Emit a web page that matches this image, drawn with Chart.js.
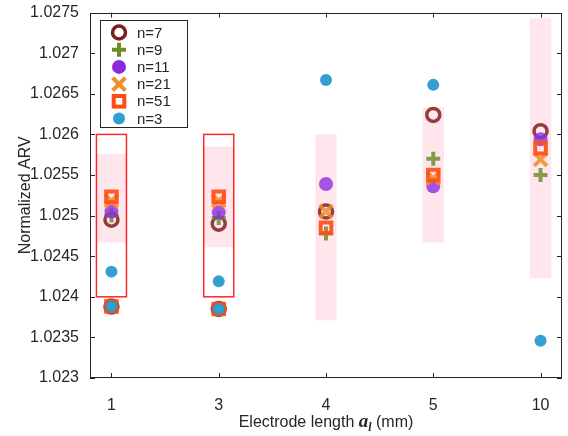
<!DOCTYPE html>
<html>
<head>
<meta charset="utf-8">
<script src="https://cdn.jsdelivr.net/npm/chart.js@4/dist/chart.umd.min.js"></script>
<style>
  body { margin: 0; background: #fff; }
  canvas { display: block; }
</style>
</head>
<body>
<canvas id="arvChart" width="568" height="436"></canvas>
<script>
// electrode lengths (mm) shown as equally spaced categories
const lengths = ['1', '3', '4', '5', '10'];
const yTicks = [1.023, 1.0235, 1.024, 1.0245, 1.025, 1.0255, 1.026, 1.0265, 1.027, 1.0275];

// normalized ARV per series
const n7 = [1.02495, 1.02490, 1.02505, 1.02624, 1.02604];
const n9 = [1.02500, 1.02497, 1.02478, 1.02570, 1.02550];
const n11 = [1.02505, 1.02504, 1.02539, 1.02536, 1.02594];
const n21 = [1.02518, 1.02518, 1.02505, 1.02546, 1.02569];
const n51 = [1.02523, 1.02523, 1.02485, 1.02550, 1.02583];
const n3 = [1.02431, 1.02419, 1.02667, 1.02661, 1.02346];
// second (low) cluster seen only at 1 and 3 mm
const lowCluster = [1.02388, 1.02385, null, null, null];

// shaded ranges and highlighted boxes
const bandLow = [1.02467, 1.02461, 1.02371, 1.02467, 1.02423];
const bandHigh = [1.02576, 1.02585, 1.02600, 1.02633, 1.02743];
const boxLow = [1.024, 1.024, null, null, null];
const boxHigh = [1.026, 1.026, null, null, null];

const seriesNames = ['n=7', 'n=9', 'n=11', 'n=21', 'n=51', 'n=3'];
const seriesValues = [n7, n9, n11, n21, n51, n3];
const seriesLow = [lowCluster, null, null, null, lowCluster, lowCluster];

const styles = [
    { shape: 'circle', r: 6.5, bw: 3.5, stroke: 'rgba(128,30,30,0.85)', fill: 'rgba(0,0,0,0)', legend: '#7e1f1f' },
    { shape: 'cross', r: 7, bw: 4, stroke: 'rgba(105,135,35,0.8)', fill: 'rgba(0,0,0,0)', legend: '#6b8e23' },
    { shape: 'circle', r: 7, bw: 0, stroke: 'rgba(0,0,0,0)', fill: 'rgba(140,45,225,0.8)', legend: '#8a2be2' },
    { shape: 'crossRot', r: 9, bw: 4, stroke: 'rgba(240,140,40,0.85)', fill: 'rgba(0,0,0,0)', legend: '#f0902a' },
    { shape: 'rect', r: 7.5, bw: 4, stroke: 'rgba(255,75,20,0.9)', fill: 'rgba(0,0,0,0)', legend: '#ff4b14' },
    { shape: 'circle', r: 6, bw: 0, stroke: 'rgba(0,0,0,0)', fill: 'rgba(40,155,205,0.95)', legend: '#2e9fd0' }
];

const axisColor = '#262626';
const sansFont = '"Liberation Sans", Arial, sans-serif';

function toPoints(vals, lows) {
    const out = vals.map((v, i) => ({ x: i + 1, y: v }));
    if (lows) {
        lows.forEach((v, i) => { if (v !== null) out.push({ x: i + 1, y: v }); });
    }
    return out;
}

const datasets = seriesNames.map((name, i) => ({
    label: name,
    data: toPoints(seriesValues[i], seriesLow[i]),
    pointStyle: styles[i].shape,
    pointRadius: styles[i].r,
    pointBorderWidth: styles[i].bw,
    borderColor: styles[i].stroke,
    backgroundColor: styles[i].fill,
    showLine: false,
    order: seriesNames.length - i
}));

// own marker drawing for the legend box
function drawMark(ctx, st, x, y) {
    ctx.save();
    ctx.lineWidth = st.bw;
    ctx.strokeStyle = st.legend;
    ctx.fillStyle = st.legend;
    ctx.beginPath();
    if (st.shape === 'circle') {
        ctx.arc(x, y, st.r, 0, Math.PI * 2);
        if (st.bw > 0) ctx.stroke(); else ctx.fill();
    } else if (st.shape === 'cross') {
        ctx.moveTo(x - st.r, y); ctx.lineTo(x + st.r, y);
        ctx.moveTo(x, y - st.r); ctx.lineTo(x, y + st.r);
        ctx.stroke();
    } else if (st.shape === 'crossRot') {
        const d = st.r * Math.SQRT1_2;
        ctx.moveTo(x - d, y - d); ctx.lineTo(x + d, y + d);
        ctx.moveTo(x - d, y + d); ctx.lineTo(x + d, y - d);
        ctx.stroke();
    } else if (st.shape === 'rect') {
        const s = st.r * Math.SQRT1_2;
        ctx.strokeRect(x - s, y - s, 2 * s, 2 * s);
    }
    ctx.restore();
}

const decorPlugin = {
    id: 'decor',
    beforeDatasetsDraw(chart) {
        const ctx = chart.ctx;
        const xs = chart.scales.x, ys = chart.scales.y;
        ctx.save();
        lengths.forEach((_, i) => {
            const half = boxLow[i] !== null ? 0.14 : 0.1;
            const x0 = xs.getPixelForValue(i + 1 - half);
            const x1 = xs.getPixelForValue(i + 1 + half);
            const yTop = ys.getPixelForValue(bandHigh[i]);
            const yBot = ys.getPixelForValue(bandLow[i]);
            ctx.fillStyle = 'rgb(255,230,236)';
            ctx.fillRect(x0, yTop, x1 - x0, yBot - yTop);
            if (boxLow[i] !== null) {
                const bTop = ys.getPixelForValue(boxHigh[i]);
                const bBot = ys.getPixelForValue(boxLow[i]);
                ctx.strokeStyle = 'rgba(255,0,0,0.85)';
                ctx.lineWidth = 1.5;
                ctx.strokeRect(x0, bTop, x1 - x0, bBot - bTop);
            }
        });
        ctx.restore();
    },
    afterDatasetsDraw(chart) {
        const ctx = chart.ctx;
        const a = chart.chartArea;
        const xs = chart.scales.x, ys = chart.scales.y;
        ctx.save();
        ctx.strokeStyle = axisColor;
        ctx.lineWidth = 1;
        ctx.strokeRect(Math.round(a.left) + 0.5, Math.round(a.top) + 0.5,
            Math.round(a.right - a.left) - 1, Math.round(a.bottom - a.top) - 1);
        ctx.beginPath();
        xs.ticks.forEach(t => {
            const x = Math.round(xs.getPixelForValue(t.value)) + 0.5;
            ctx.moveTo(x, a.bottom); ctx.lineTo(x, a.bottom - 5);
            ctx.moveTo(x, a.top); ctx.lineTo(x, a.top + 5);
        });
        ys.ticks.forEach(t => {
            const y = Math.round(ys.getPixelForValue(t.value)) + 0.5;
            ctx.moveTo(a.left, y); ctx.lineTo(a.left + 5, y);
            ctx.moveTo(a.right, y); ctx.lineTo(a.right - 5, y);
        });
        ctx.stroke();

        // legend box, upper left inside the axes
        const lx = 100, ly = 20, lw = 88, lh = 108;
        ctx.fillStyle = '#fff';
        ctx.fillRect(lx, ly, lw, lh);
        ctx.strokeStyle = axisColor;
        ctx.strokeRect(lx + 0.5, ly + 0.5, lw - 1, lh - 1);
        ctx.font = '15px ' + sansFont;
        ctx.textBaseline = 'middle';
        ctx.textAlign = 'left';
        seriesNames.forEach((name, i) => {
            const y = ly + 12.5 + i * 17.2;
            drawMark(ctx, styles[i], lx + 19, y);
            ctx.fillStyle = axisColor;
            ctx.fillText(name, lx + 37, y + 1);
        });

        // x axis title with the italic bold symbol
        const parts = [
            { t: 'Electrode length ', f: '16px ' + sansFont, dy: 0 },
            { t: 'a', f: 'italic bold 19px "Liberation Serif", "Times New Roman", serif', dy: 0 },
            { t: 'l', f: 'italic bold 12px "Liberation Serif", "Times New Roman", serif', dy: 4 },
            { t: ' (mm)', f: '16px ' + sansFont, dy: 0 }
        ];
        let total = 0;
        parts.forEach(p => { ctx.font = p.f; p.w = ctx.measureText(p.t).width; total += p.w; });
        let cx = (a.left + a.right) / 2 - total / 2;
        ctx.textBaseline = 'alphabetic';
        ctx.fillStyle = axisColor;
        parts.forEach(p => {
            ctx.font = p.f;
            ctx.fillText(p.t, cx, 427 + p.dy);
            cx += p.w;
        });
        ctx.restore();
    }
};

new Chart(document.getElementById('arvChart'), {
    type: 'scatter',
    data: { datasets: datasets },
    options: {
        responsive: false,
        animation: false,
        layout: { padding: { top: 8, right: 6, left: 0, bottom: 0 }, autoPadding: false },
        plugins: {
            legend: { display: false },
            tooltip: { enabled: false }
        },
        scales: {
            x: {
                type: 'linear',
                min: 0.8,
                max: 5.2,
                afterBuildTicks: s => { s.ticks = lengths.map((_, i) => ({ value: i + 1 })); },
                afterFit: s => { s.height = 58; },
                grid: { display: false },
                border: { display: false },
                ticks: {
                    autoSkip: false,
                    maxRotation: 0,
                    padding: 10,
                    color: axisColor,
                    font: { family: sansFont, size: 16 },
                    callback: v => lengths[v - 1]
                }
            },
            y: {
                min: 1.023,
                max: 1.0275,
                afterBuildTicks: s => { s.ticks = yTicks.map(v => ({ value: v })); },
                afterFit: s => { s.width = 90; },
                grid: { display: false },
                border: { display: false },
                ticks: {
                    autoSkip: false,
                    padding: 3,
                    color: axisColor,
                    font: { family: sansFont, size: 16 },
                    callback: v => String(+v.toFixed(4))
                },
                title: {
                    display: true,
                    text: 'Normalized ARV',
                    color: axisColor,
                    font: { family: sansFont, size: 16 },
                    padding: { top: 16, bottom: 0 }
                }
            }
        }
    },
    plugins: [decorPlugin]
});
</script>
</body>
</html>
